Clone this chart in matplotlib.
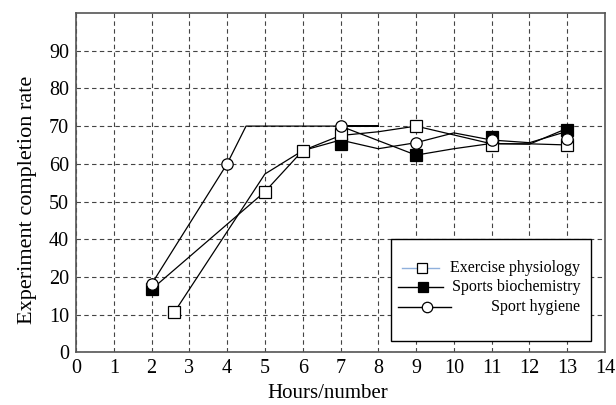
import numpy as np
import matplotlib
matplotlib.use("Agg")
import matplotlib.pyplot as plt
from matplotlib.patches import Rectangle
from matplotlib.lines import Line2D

plt.rcParams['font.family'] = ['Liberation Serif', 'DejaVu Serif']

# ---- data ----
series_names = ["Exercise physiology", "Sports biochemistry", "Sport hygiene"]

# line paths
phys_line_x = [2.6, 5, 6, 7, 8, 9, 11, 12, 13]
phys_line_y = [10.6, 57.3, 63.5, 67.5, 68.5, 70, 65.3, 65.3, 65]
bio_line_x = [2, 5, 6, 7, 8, 9, 10, 11, 12, 13]
bio_line_y = [16.7, 52.6, 63.5, 66.3, 64.0, 65.6, 68.2, 66.3, 65.6, 68.6]
hyg_line_x = [2, 4, 4.5, 8, 7, 9, 10, 11, 12, 13]
hyg_line_y = [18.1, 60, 70, 70, 70, 62.3, 64.0, 65.4, 65.2, 69.4]

# marker points
phys_mark_x = [2.6, 5, 6, 7, 9, 11, 13]
phys_mark_y = [10.6, 52.6, 63.5, 68, 70, 65, 65]
bio_mark_x = [2, 7, 9, 11, 13]
bio_mark_y = [16.7, 65.3, 62.3, 67.2, 69.0]
hyg_mark_x = [2, 4, 7, 9, 11, 13]
hyg_mark_y = [18.1, 60, 70, 65.6, 66.3, 66.6]

y_tick_values = [0, 10, 20, 40, 50, 60, 70, 80, 90]
x_ticks = list(range(0, 15))

# ---- axis scale: tick values are equally spaced on the axis ----
scale_vals = np.array(y_tick_values + [100], dtype=float)
scale_pos = np.arange(len(scale_vals), dtype=float)

def fwd(v):
    return np.interp(v, scale_vals, scale_pos)

def inv(p):
    return np.interp(p, scale_pos, scale_vals)

fig = plt.figure(figsize=(6.16, 4.05), dpi=100)
ax = fig.add_axes([76/616, 1-352.3/405, 529/616, 339.3/405])
ax.set_yscale('function', functions=(fwd, inv))
ax.set_xlim(0, 14)
ax.set_ylim(0, 100)
ax.set_xticks(x_ticks)
ax.set_yticks(y_tick_values)
ax.set_yticklabels([str(v) for v in y_tick_values])
ax.minorticks_off()
ax.tick_params(axis='both', length=0, labelsize=14.5)
ax.tick_params(axis='y', pad=5)
ax.tick_params(axis='x', pad=5)

ax.grid(True, color='#444444', linestyle=(0, (4, 3)), linewidth=0.8)
ax.set_axisbelow(True)
for s in ax.spines.values():
    s.set_color('#555555')
    s.set_linewidth(1.2)

lw = 0.9
ax.plot(phys_line_x, phys_line_y, color='black', lw=lw, zorder=3)
ax.plot(bio_line_x, bio_line_y, color='black', lw=lw, zorder=3)
ax.plot(hyg_line_x, hyg_line_y, color='black', lw=lw, zorder=3)

ax.plot(bio_mark_x, bio_mark_y, ls='none', marker='s', ms=8, mfc='black',
        mec='black', mew=0.9, zorder=4)
ax.plot(phys_mark_x, phys_mark_y, ls='none', marker='s', ms=8.6, mfc='white',
        mec='black', mew=0.9, zorder=5)
ax.plot(hyg_mark_x, hyg_mark_y, ls='none', marker='o', ms=8.2, mfc='white',
        mec='black', mew=0.9, zorder=6)

ax.set_xlabel("Hours/number", fontsize=15)
ax.set_ylabel("Experiment completion rate", fontsize=16)
ax.xaxis.set_label_coords(0.476, -0.093)
ax.yaxis.set_label_coords(-0.073, 0.449)

# ---- legend box drawn by hand (text right-aligned as in the source) ----
T = ax.transAxes
ax.add_patch(Rectangle((0.595, 0.033), 0.378, 0.300, transform=T,
                       facecolor='white', edgecolor='black', lw=1.0, zorder=10))
rows_y = [0.2476, 0.1916, 0.134]
handle_specs = [
    dict(x0=0.616, x1=0.687, xm=0.655, color='#8fb0dc', marker='s', mfc='white'),
    dict(x0=0.609, x1=0.694, xm=0.656, color='black', marker='s', mfc='black'),
    dict(x0=0.609, x1=0.709, xm=0.663, color='black', marker='o', mfc='white'),
]
for name, yy, h in zip(series_names, rows_y, handle_specs):
    ax.add_line(Line2D([h['x0'], h['x1']], [yy, yy], transform=T,
                       color=h['color'], lw=1.0, zorder=11))
    ax.add_line(Line2D([h['xm']], [yy], transform=T, ls='none',
                       marker=h['marker'], ms=7.5, mfc=h['mfc'], mec='black',
                       mew=0.9, zorder=12))
    ax.text(0.953, yy, name, transform=T, ha='right', va='center',
            fontsize=11.5, zorder=12)

fig.savefig("out.png", dpi=100)
